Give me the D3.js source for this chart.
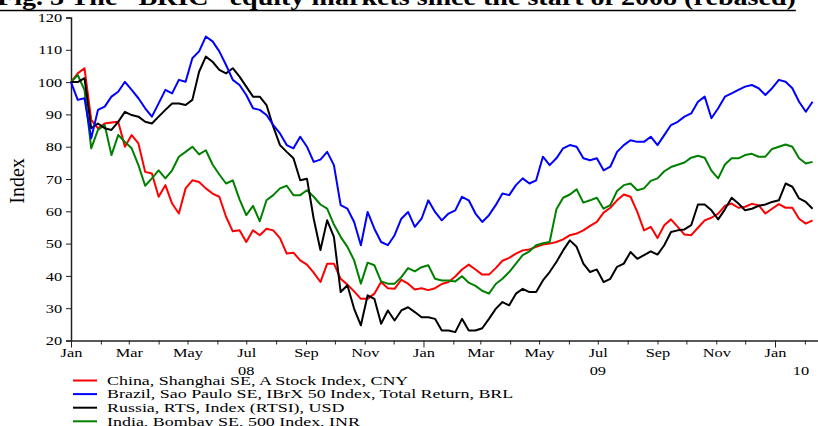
<!DOCTYPE html>
<html>
<head>
<meta charset="utf-8">
<script src="https://cdn.jsdelivr.net/npm/d3@7"></script>
<style>
  body { margin: 0; background: #fff; }
  svg { display: block; font-family: "Liberation Serif", "Times New Roman", serif; }
</style>
</head>
<body>
<svg id="chart" width="818" height="426"></svg>
<script>
// weekly observations starting 2008-01-01, rebased to 100
const startDate = new Date(2008, 0, 1);

const china = [100, 102.7, 104.3, 88.3, 85.7, 87.2, 87.5, 87.7, 80, 83.6,
  81, 72.2, 71.7, 64.5, 68.1, 62.4, 59.3, 67.1, 69.6, 69.1,
  67.1, 65.5, 64.5, 58.3, 53.8, 54.1, 50.5, 54.1, 52.6, 54.6,
  54.1, 51.7, 46.9, 47.2, 44.8, 43.5, 41, 38.1, 43.8, 43.8,
  39.1, 37.3, 35.2, 32.9, 32.9, 34.5, 38.1, 36.2, 36, 38.8,
  37.6, 35.8, 36.2, 35.6, 36.2, 37.5, 38.1, 39.8, 42, 43.5,
  42, 40.4, 40.4, 42.4, 44.7, 45.6, 46.9, 47.9, 48.2, 49,
  49.7, 50, 50.5, 51.3, 52.6, 53.1, 54.1, 55.5, 56.7, 59.6,
  61.1, 63.4, 65.2, 64.5, 59.8, 54.1, 55.2, 51.7, 55.7, 57.5,
  55.2, 52.8, 52.6, 54.9, 57.2, 58, 59.3, 61.7, 62.4, 61.1,
  61.4, 62.3, 61.9, 59.3, 60.8, 62.2, 61.1, 61.1, 57.7, 56.2, 57.2];

const brazil = [100, 94.5, 95, 82.6, 91.4, 92.4, 95.5, 97, 100.1, 97.6,
  95, 91.9, 89.3, 93.4, 97.6, 96.5, 100.7, 100.1, 107.4, 109.5,
  114.1, 112.6, 109.5, 105.3, 100.7, 99.1, 96, 91.9, 91.4, 89.8,
  86.7, 84.1, 80.5, 79.5, 83.1, 80, 75.3, 76, 78.4, 74.3,
  61.9, 60.8, 56.7, 49.5, 59.8, 54.6, 50.5, 49.5, 52.6, 57.7,
  59.8, 55.2, 57.7, 63.4, 59.8, 57.2, 59.3, 60.3, 64.5, 63.4,
  59.3, 56.7, 58.8, 61.9, 65.5, 65, 68.1, 70.2, 68.6, 69.6,
  76.9, 74.3, 76.4, 79.5, 80.5, 80, 76.4, 75.8, 76.4, 72.7,
  73.8, 78.4, 80.5, 82, 81.5, 81.5, 83.1, 80.5, 83.6, 86.7,
  87.7, 89.3, 90.3, 93.9, 95.5, 88.8, 91.9, 95.5, 96.5, 97.6,
  98.6, 99.1, 98.1, 96, 98.1, 100.7, 100.1, 98.1, 93.9, 90.8, 93.9];

const russia = [100, 100, 101.2, 85.7, 87.2, 85.7, 85.2, 87.7, 90.8, 89.8,
  89.3, 87.7, 87.2, 89.3, 91.4, 93.4, 93.4, 92.9, 94.5, 103.2,
  107.9, 106.3, 103.8, 102.7, 104.3, 101.7, 98.6, 95.5, 95.5, 92.9,
  86.2, 80.5, 78.4, 76.4, 69.6, 70.1, 57.7, 48, 57.2, 52.1,
  35, 37.1, 29.8, 24.7, 34, 32.9, 25.2, 29.3, 26.2, 29.3,
  30.3, 28.8, 27.2, 27.2, 26.7, 23.1, 23.1, 22.6, 26.7, 23.1,
  23.1, 23.8, 26.7, 29.8, 31.9, 30.9, 34.5, 36, 35, 35,
  38.6, 41.2, 44.3, 47.9, 51, 49, 43.8, 41.2, 42, 38.1,
  39.1, 42.8, 43.8, 47.4, 45.3, 46.4, 47.6, 46.6, 49.5, 53.6,
  54.1, 54.4, 55.7, 62.1, 62.1, 60.3, 57.5, 60.6, 64.2, 62.4,
  60.3, 60.8, 61.7, 62.1, 62.9, 63.4, 68.6, 67.6, 64, 62.9, 60.8];

const india = [100, 102.2, 97.6, 79.5, 85.2, 86.7, 77.4, 83.6, 81.5, 79.5,
  74.3, 67.9, 70.2, 72.7, 70.2, 72.7, 76.9, 78.4, 80, 77.6,
  78.9, 74.5, 71.4, 68.6, 69.6, 63.7, 58.8, 61.7, 56.9, 63.4,
  65, 67.1, 67.9, 65, 65, 66.5, 64.5, 62.1, 60.8, 55.9,
  52.1, 49, 44.8, 37.6, 44.1, 43.3, 38.3, 37.6, 37.6, 39.6,
  42.4, 41.4, 42.7, 43.3, 39.1, 38.6, 38.6, 38.3, 39.9, 37.9,
  36.9, 35.4, 34.5, 37.5, 39.1, 41.2, 43.8, 46.4, 47.6, 49.5,
  50.1, 50.5, 60.6, 64.2, 65.2, 66.8, 62.7, 63.4, 64.2, 60.8,
  61.9, 66.3, 68.1, 68.6, 66.5, 67.1, 69.4, 70.2, 72.4, 73.7,
  74.4, 75.1, 76.6, 77.2, 76.6, 72.6, 70.2, 74.5, 76.4, 76.4,
  77.4, 77.8, 76.9, 76.9, 79.3, 80, 80.7, 80, 76.4, 74.8, 75.3];

const seriesNames = [
  'China, Shanghai SE, A Stock Index, CNY',
  'Brazil, Sao Paulo SE, IBrX 50 Index, Total Return, BRL',
  'Russia, RTS, Index (RTSI), USD',
  'India, Bombay SE, 500 Index, INR'
];
const seriesColors = ['#ff0000', '#0000ff', '#000000', '#008000'];
const yTicks = [20, 30, 40, 50, 60, 70, 80, 90, 100, 110, 120];
const yearLabels = [['08', new Date(2008, 6, 1)], ['09', new Date(2009, 6, 1)], ['10', new Date(2010, 0, 28)]];
const titleText = 'Fig. 3 The \u201cBRIC\u201d equity markets since the start of 2008 (rebased)';

const svg = d3.select('#chart');
const margin = { left: 71, top: 17.5, bottom: 340.5 };
// the source picture is stretched sideways, so text is widened a bit
const stretch = 1.26;

const x = d3.scaleTime()
  .domain([startDate, new Date(2010, 0, 1)])
  .range([71, 775]);
const xAxisScale = x.copy().domain([startDate, x.invert(818)]).range([71, 818]);
const y = d3.scaleLinear().domain([20, 120]).range([margin.bottom, margin.top]);

// title (clipped at the top like the source)
const title = svg.append('text')
  .attr('transform', 'translate(-3,5) scale(1.17,1)')
  .attr('font-size', '24px')
  .attr('font-weight', 'bold')
  .text(titleText);
const tw = title.node().getComputedTextLength() * 1.17;
svg.append('line')
  .attr('x1', 0).attr('x2', tw - 3)
  .attr('y1', 10.5).attr('y2', 10.5)
  .attr('stroke', '#000').attr('stroke-width', 1.5);

// y axis
const yAxis = svg.append('g')
  .attr('transform', `translate(${margin.left},0)`)
  .call(d3.axisLeft(y).tickValues(yTicks).tickSize(5).tickPadding(2).tickFormat(d3.format('d')));
yAxis.select('.domain').attr('stroke', '#222').attr('stroke-width', 1.5);
yAxis.selectAll('.tick line').attr('stroke', '#222');
yAxis.selectAll('.tick text')
  .attr('font-family', '"Liberation Serif", serif')
  .attr('font-size', '13px')
  .attr('fill', '#000')
  .attr('transform', `scale(${stretch},1)`);

svg.append('text')
  .attr('transform', 'translate(24,181) rotate(-90)')
  .attr('text-anchor', 'middle')
  .attr('font-size', '20px')
  .text('Index');

// x axis
const xAxis = svg.append('g')
  .attr('transform', `translate(0,${margin.bottom})`)
  .call(d3.axisBottom(xAxisScale)
    .ticks(d3.timeMonth.every(1))
    .tickSize(4)
    .tickPadding(3)
    .tickSizeOuter(0)
    .tickFormat(d => d.getMonth() % 2 === 0 ? d3.timeFormat('%b')(d) : ''));
xAxis.select('.domain').attr('stroke', '#222').attr('stroke-width', 1.5);
xAxis.selectAll('.tick line').attr('stroke', '#222')
  .attr('y2', d => d.getMonth() === 0 ? 7 : 4);
xAxis.selectAll('.tick text')
  .attr('font-family', '"Liberation Serif", serif')
  .attr('font-size', '13px')
  .attr('fill', '#000')
  .attr('transform', `scale(${stretch},1)`);

svg.append('g')
  .selectAll('text')
  .data(yearLabels)
  .join('text')
  .attr('transform', d => `translate(${x(d[1])},375) scale(${stretch},1)`)
  .attr('text-anchor', 'middle')
  .attr('font-size', '13px')
  .text(d => d[0]);

// lines
const allSeries = [china, brazil, russia, india];
const line = d3.line()
  .x((d, i) => x(d3.timeDay.offset(startDate, 7 * i)))
  .y(d => y(d));

[0, 3, 2, 1].forEach(si => {
  svg.append('path')
    .datum(allSeries[si])
    .attr('d', line)
    .attr('fill', 'none')
    .attr('stroke', seriesColors[si])
    .attr('stroke-width', 2)
    .attr('stroke-linejoin', 'round');
});

// legend
const legend = svg.append('g').attr('class', 'legends');
const rows = legend.selectAll('g')
  .data(seriesNames)
  .join('g')
  .attr('transform', (d, i) => `translate(73,${380.5 + i * 13.6})`);
rows.append('line')
  .attr('x1', 0).attr('x2', 24)
  .attr('stroke', (d, i) => seriesColors[i])
  .attr('stroke-width', 2);
rows.append('text')
  .attr('transform', 'translate(34,4.3) scale(1.38,1)')
  .attr('font-size', '13px')
  .text(d => d);
</script>
</body>
</html>
